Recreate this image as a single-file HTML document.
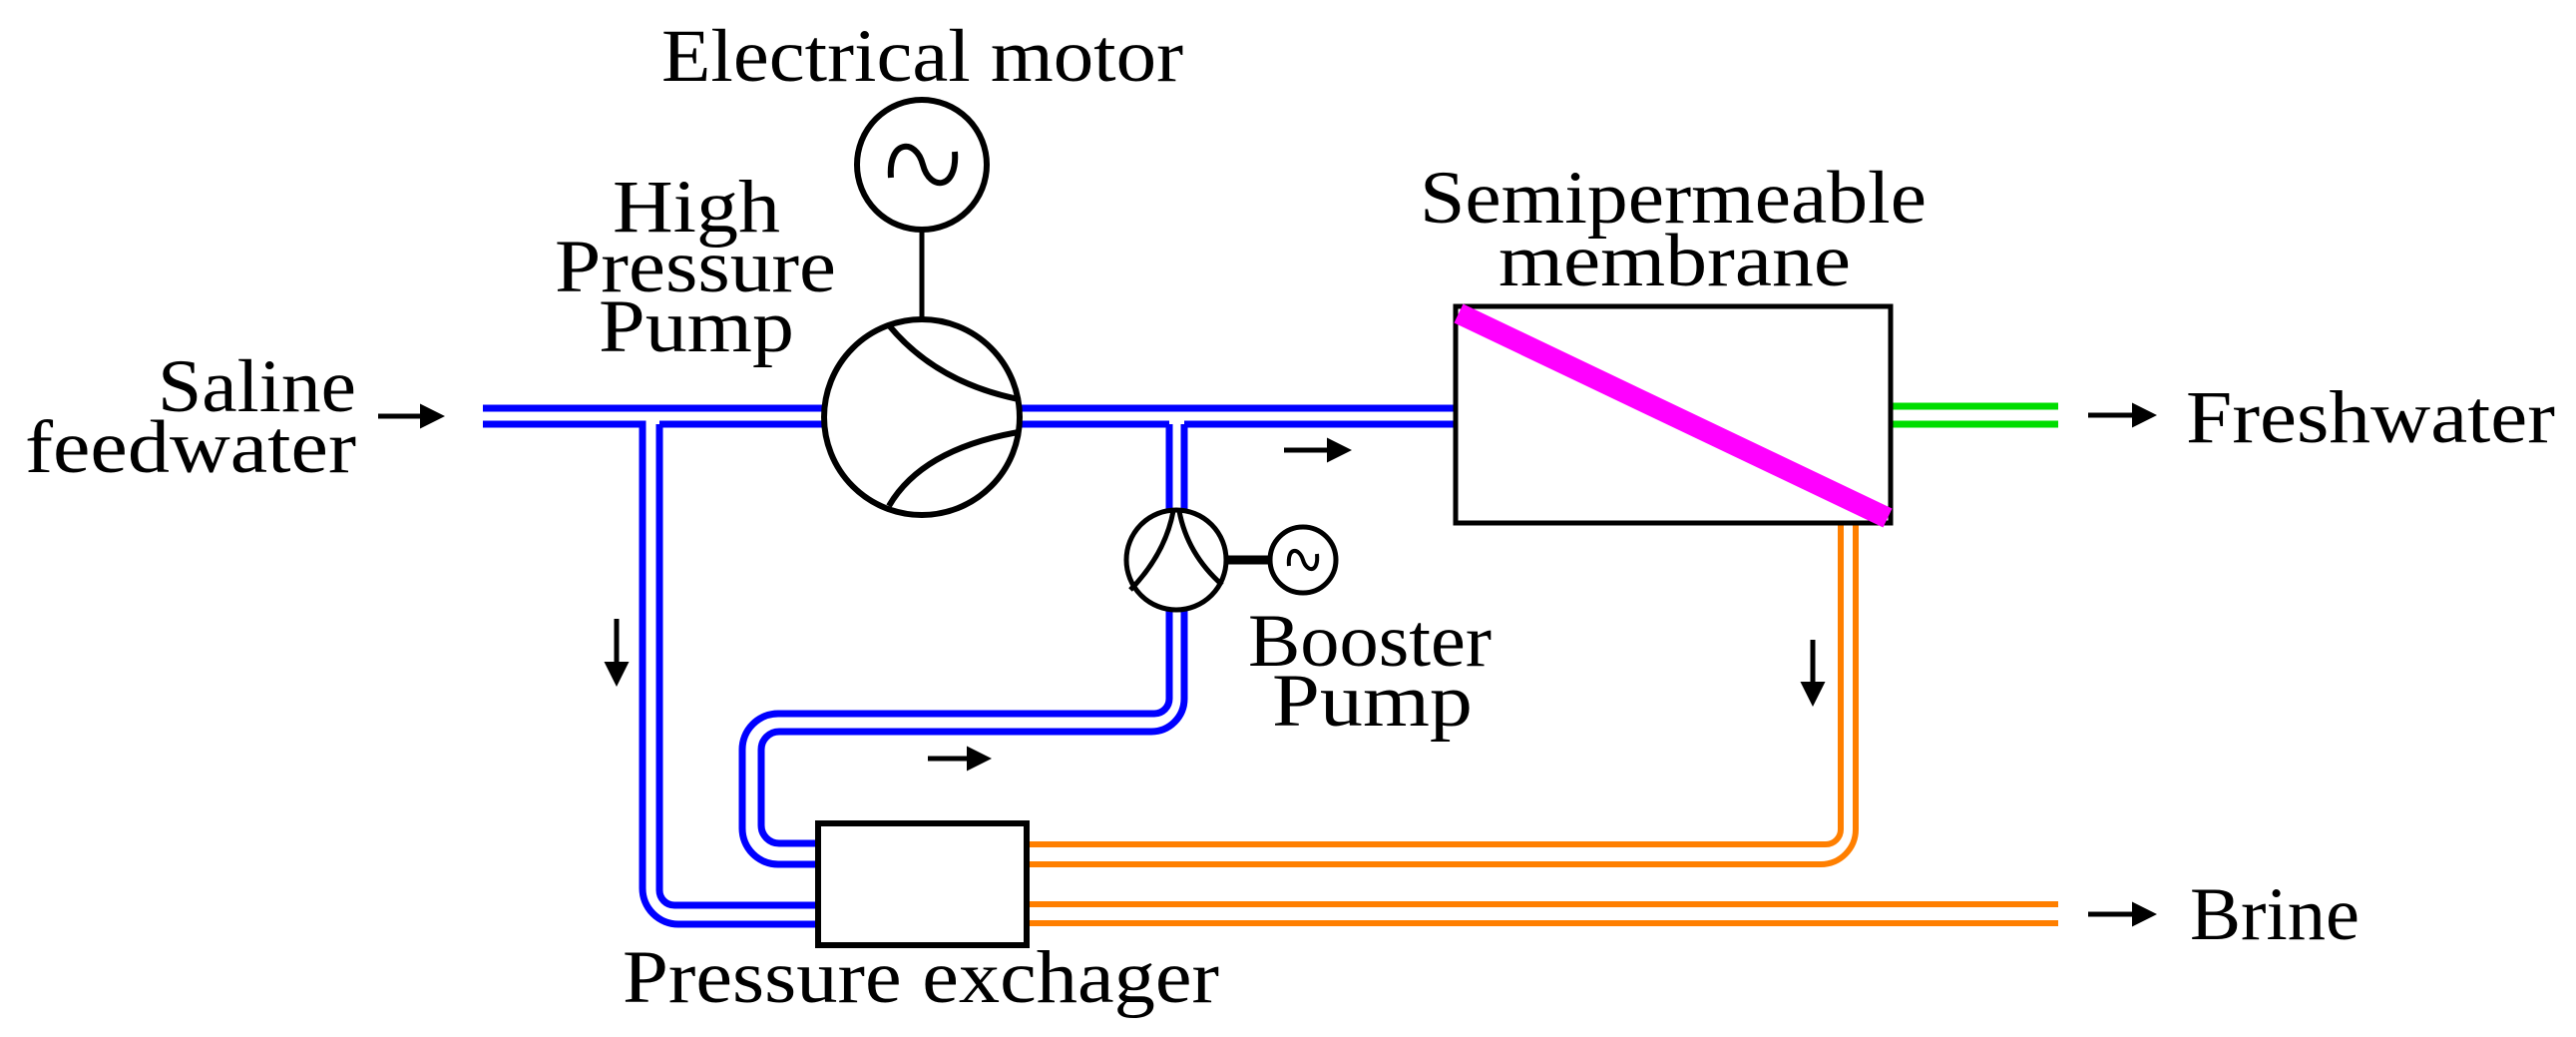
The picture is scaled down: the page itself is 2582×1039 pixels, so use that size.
<!DOCTYPE html>
<html><head><meta charset="utf-8"><style>
html,body{margin:0;padding:0;background:#fff;}
svg{display:block;}
text{font-family:"Liberation Serif",serif;font-size:75px;fill:#000;}
</style></head><body>
<svg width="2582" height="1039" viewBox="0 0 2582 1039" xmlns="http://www.w3.org/2000/svg">
<defs>
<marker id="ah" markerWidth="5" markerHeight="5" refX="3" refY="2.5" orient="auto" markerUnits="strokeWidth">
<path d="M0,0 L5,2.5 L0,5 Z" fill="#000"/>
</marker>
</defs>
<rect width="2582" height="1039" fill="#fff"/>

<text x="663" y="81" textLength="523" lengthAdjust="spacingAndGlyphs">Electrical motor</text>
<text x="614" y="232" textLength="168" lengthAdjust="spacingAndGlyphs">High</text>
<text x="556" y="292" textLength="282" lengthAdjust="spacingAndGlyphs">Pressure</text>
<text x="600" y="352" textLength="196" lengthAdjust="spacingAndGlyphs">Pump</text>
<text x="1423" y="223" textLength="508" lengthAdjust="spacingAndGlyphs">Semipermeable</text>
<text x="1502" y="286" textLength="353" lengthAdjust="spacingAndGlyphs">membrane</text>
<text x="158" y="412" textLength="199" lengthAdjust="spacingAndGlyphs">Saline</text>
<text x="25" y="473" textLength="332" lengthAdjust="spacingAndGlyphs">feedwater</text>
<text x="2191" y="443" textLength="370" lengthAdjust="spacingAndGlyphs">Freshwater</text>
<text x="2195" y="941" textLength="170" lengthAdjust="spacingAndGlyphs">Brine</text>
<text x="1251" y="667" textLength="244" lengthAdjust="spacingAndGlyphs">Booster</text>
<text x="1275" y="727" textLength="201" lengthAdjust="spacingAndGlyphs">Pump</text>
<text x="624" y="1004" textLength="598" lengthAdjust="spacingAndGlyphs">Pressure exchager</text>

<g fill="none" stroke="#0000ff" stroke-width="7">
<line x1="484" y1="409" x2="828" y2="409"/>
<line x1="1020" y1="409" x2="1459" y2="409"/>
<path d="M484,425 H644 V890 A36,36 0 0 0 680,926 H820"/>
<path d="M661,425 V892 A15,15 0 0 0 676,907 H820"/>
<line x1="661" y1="425" x2="828" y2="425"/>
<path d="M1020,425 H1172"/>
<path d="M1187,425 H1459"/>
<line x1="1172" y1="425" x2="1172" y2="513"/>
<line x1="1187" y1="425" x2="1187" y2="515"/>
<path d="M1172,609 V700 A15,15 0 0 1 1157,715 H780 A36,36 0 0 0 744,751 V830 A36,36 0 0 0 780,866 H820"/>
<path d="M1187,607 V700 A33,33 0 0 1 1154,733 H781 A18,18 0 0 0 763,751 V827 A18,18 0 0 0 781,845 H820"/>
</g>

<g fill="none" stroke="#ff7f00" stroke-width="6">
<path d="M1029,846 H1830 A15,15 0 0 0 1845,831 V524"/>
<path d="M1029,866 H1825 A35,35 0 0 0 1860,831 V524"/>
<line x1="1029" y1="906" x2="2063" y2="906"/>
<line x1="1029" y1="925" x2="2063" y2="925"/>
</g>

<g stroke="#00dd00" stroke-width="7">
<line x1="1895" y1="407" x2="2063" y2="407"/>
<line x1="1895" y1="425" x2="2063" y2="425"/>
</g>

<rect x="1459" y="307" width="436" height="217" fill="#fff" stroke="#000" stroke-width="5"/>
<line x1="1462" y1="314" x2="1892" y2="519" stroke="#ff00ff" stroke-width="21"/>

<rect x="820" y="825" width="209" height="122" fill="#fff" stroke="#000" stroke-width="6"/>

<circle cx="924" cy="165" r="65" fill="#fff" stroke="#000" stroke-width="6"/>
<path d="M893,178 C890,140 918,138 925,165 C932,192 960,190 957,152" fill="none" stroke="#000" stroke-width="6"/>
<line x1="924" y1="230" x2="924" y2="320" stroke="#000" stroke-width="5"/>

<circle cx="924" cy="418" r="98" fill="#fff" stroke="#000" stroke-width="6"/>
<path d="M891,326 Q938,383 1021,400" fill="none" stroke="#000" stroke-width="6"/>
<path d="M891,507 Q924,450 1021,433" fill="none" stroke="#000" stroke-width="6"/>

<circle cx="1179" cy="561" r="50" fill="#fff" stroke="#000" stroke-width="5"/>
<path d="M1176,512 Q1168,555 1133,591" fill="none" stroke="#000" stroke-width="5"/>
<path d="M1182,512 Q1190,555 1225,586" fill="none" stroke="#000" stroke-width="5"/>
<line x1="1229" y1="561" x2="1273" y2="561" stroke="#000" stroke-width="9"/>
<circle cx="1306" cy="561" r="33" fill="#fff" stroke="#000" stroke-width="5"/>
<path d="M1292,567 C1290,548 1302,548 1306,561 C1310,574 1322,574 1320,555" fill="none" stroke="#000" stroke-width="4"/>

<g stroke="#000" stroke-width="5" fill="none" marker-end="url(#ah)">
<line x1="379" y1="417" x2="436" y2="417"/>
<line x1="1287" y1="451" x2="1345" y2="451"/>
<line x1="930" y1="760" x2="984" y2="760"/>
<line x1="618" y1="620" x2="618" y2="678"/>
<line x1="1817" y1="641" x2="1817" y2="698"/>
<line x1="2093" y1="416" x2="2152" y2="416"/>
<line x1="2093" y1="916" x2="2152" y2="916"/>
</g>
</svg>
</body></html>
